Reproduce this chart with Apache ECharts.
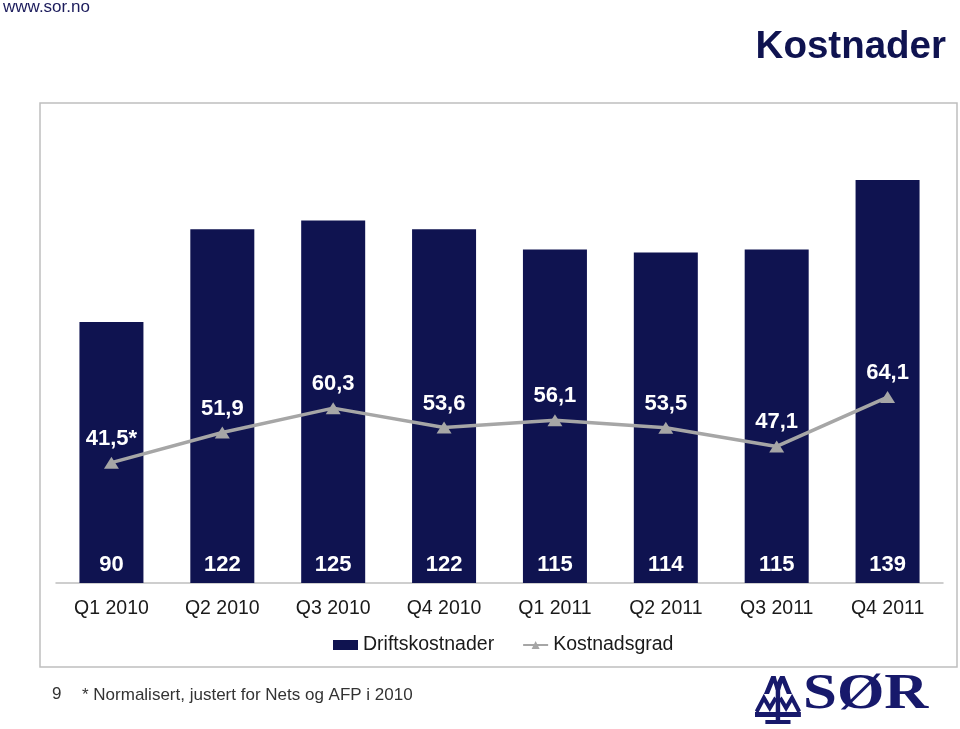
<!DOCTYPE html>
<html>
<head>
<meta charset="utf-8">
<script src="https://cdn.jsdelivr.net/npm/echarts@6/dist/echarts.min.js"></script>
<style>
html,body{margin:0;padding:0;background:#fff;}
#c{width:960px;height:729px;}
</style>
</head>
<body>
<div id="c"></div>
<script>
const categories = ['Q1 2010','Q2 2010','Q3 2010','Q4 2010','Q1 2011','Q2 2011','Q3 2011','Q4 2011'];
const driftskostnader = [90,122,125,122,115,114,115,139];
const kostnadsgrad = [41.5,51.9,60.3,53.6,56.1,53.5,47.1,64.1];
const kostnadsgradLabels = ['41,5*','51,9','60,3','53,6','56,1','53,5','47,1','64,1'];
const seriesNames = ['Driftskostnader','Kostnadsgrad'];

const FONT = "'Liberation Sans', Arial, sans-serif";
const NAVY = '#0f1350';
const GREY = '#a6a6a6';

const chart = echarts.init(document.getElementById('c'), null, {renderer:'canvas'});
chart.setOption({
  animation:false,
  backgroundColor:'#fff',
  grid:{left:56, right:17, top:148, bottom:146},
  legend:{
    left:328, top:630, itemWidth:25, itemHeight:10, itemGap:28,
    textStyle:{fontFamily:FONT, fontSize:19.5, color:'#1a1a1a'},
    data:[{name:seriesNames[0], icon:'rect'},{name:seriesNames[1]}]
  },
  xAxis:{
    type:'category', data:categories,
    axisLine:{lineStyle:{color:'#bfbfbf', width:1.5}},
    axisTick:{show:false},
    axisLabel:{fontFamily:FONT, fontSize:19.5, color:'#1a1a1a', margin:16}
  },
  yAxis:{type:'value', min:0, max:150, show:false, splitLine:{show:false}},
  series:[
    {
      name:seriesNames[0], type:'bar', data:driftskostnader, barWidth:64,
      itemStyle:{color:NAVY},
      label:{show:true, position:'insideBottom', distance:7, color:'#fff',
        fontFamily:FONT, fontWeight:'bold', fontSize:22}
    },
    {
      name:seriesNames[1], type:'line', data:kostnadsgrad,
      symbol:'triangle', symbolSize:[15,12],
      lineStyle:{color:GREY, width:3.5},
      itemStyle:{color:GREY},
      label:{show:true, position:'top', distance:7, color:'#fff',
        fontFamily:FONT, fontWeight:'bold', fontSize:22,
        formatter:p=>kostnadsgradLabels[p.dataIndex]}
    }
  ],
  graphic:[
    {type:'rect', shape:{x:40, y:103, width:917, height:564}, silent:true, z:-10,
      style:{fill:'none', stroke:'#bfbfbf', lineWidth:1.5}},
    {type:'text', left:3, top:-1, style:{text:'www.sor.no', font:"17px "+FONT, fill:'#1c1c5c'}},
    {type:'text', right:14, top:28, style:{text:'Kostnader', font:"bold 38.5px "+FONT, fill:'#0f1350'}},
    {type:'text', left:52, top:686, style:{text:'9', font:"17px "+FONT, fill:'#333'}},
    {type:'text', left:82, top:687, style:{text:'* Normalisert, justert for Nets og AFP i 2010', font:"17px "+FONT, fill:'#333'}},
    {type:'text', x:803, y:670, scaleX:1.22, style:{text:'SØR', font:"bold 50px 'Liberation Serif','DejaVu Serif',serif", fill:'#17196b'}},
    {type:'group', x:755, y:672, scaleX:0.74, scaleY:1.0, children:[
      {type:'polygon', shape:{points:[[12,22],[22,4],[28,4],[30,10],[34,4],[40,4],[50,22],[43,22],[37,11],[34,18],[28,18],[25,11],[19,22]]}, style:{fill:'#17196b'}},
      {type:'rect', shape:{x:28, y:14, width:6, height:34}, style:{fill:'#17196b'}},
      {type:'polyline', shape:{points:[[2,40],[12,26],[20,36],[28,26]]}, style:{stroke:'#17196b', lineWidth:5, fill:'none'}},
      {type:'polyline', shape:{points:[[34,26],[42,36],[50,26],[60,40]]}, style:{stroke:'#17196b', lineWidth:5, fill:'none'}},
      {type:'rect', shape:{x:0, y:40, width:62, height:5}, style:{fill:'#17196b'}},
      {type:'rect', shape:{x:14, y:48, width:34, height:4}, style:{fill:'#17196b'}}
    ]}
  ]
});
</script>
</body>
</html>
